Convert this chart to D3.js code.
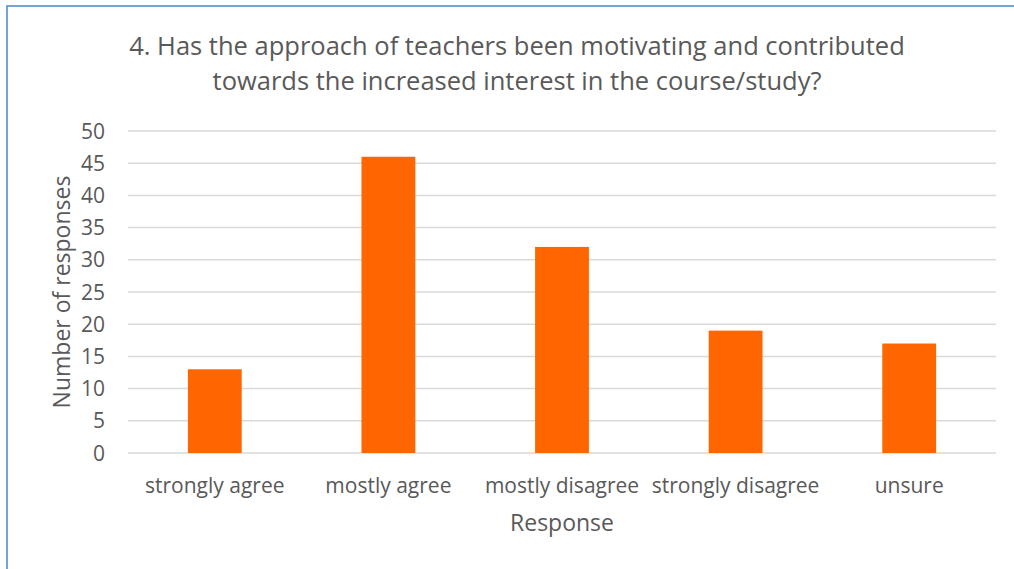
<!DOCTYPE html>
<html>
<head>
<meta http-equiv="Content-Type" content="text/html; charset=UTF-8">
<style>
body { margin: 0; background: #fff; }
text { font-family: "Open Sans", sans-serif; fill: #595959; }
.grid line { stroke: #d9d9d9; stroke-width: 1.5px; }
.bar { fill: #ff6600; }
</style>
</head>
<body>
<svg width="1014" height="569"></svg>
<script src="https://cdn.jsdelivr.net/npm/d3@7"></script>
<script>

var categories = ["strongly agree", "mostly agree", "mostly disagree", "strongly disagree", "unsure"];
var values = [13, 46, 32, 19, 17];
var yTicks = [0, 5, 10, 15, 20, 25, 30, 35, 40, 45, 50];
var titleLines = ["4. Has the approach of teachers been motivating and contributed",
                  "towards the increased interest in the course/study?"];

var svg = d3.select("svg"),
    margin = {top: 131, right: 18, bottom: 116, left: 128},
    width = +svg.attr("width") - margin.left - margin.right,
    height = +svg.attr("height") - margin.top - margin.bottom;

// chart frame
svg.append("rect")
    .attr("x", 7).attr("y", 6)
    .attr("width", 1020).attr("height", 600)
    .attr("fill", "none")
    .attr("stroke", "#4a86c8")
    .attr("stroke-width", 1.5);

var g = svg.append("g").attr("transform", "translate(" + margin.left + "," + margin.top + ")");

var x = d3.scaleBand().domain(categories).range([0, width]).padding(0);
var y = d3.scaleLinear().domain([0, 50]).range([height, 0]);

var barW = x.bandwidth() * 0.31;

// gridlines
g.append("g")
    .attr("class", "grid")
    .selectAll("line")
    .data(yTicks)
  .enter().append("line")
    .attr("x1", 0).attr("x2", width)
    .attr("y1", function(d) { return y(d); })
    .attr("y2", function(d) { return y(d); });

// y tick labels
g.append("g")
    .selectAll("text")
    .data(yTicks)
  .enter().append("text")
    .attr("x", -23)
    .attr("y", function(d) { return y(d); })
    .attr("dy", "0.36em")
    .attr("text-anchor", "end")
    .style("font-size", "21px")
    .text(function(d) { return d; });

// bars
g.selectAll(".bar")
    .data(values)
  .enter().append("rect")
    .attr("class", "bar")
    .attr("x", function(d, i) { return x(categories[i]) + (x.bandwidth() - barW) / 2; })
    .attr("y", function(d) { return y(d); })
    .attr("width", barW)
    .attr("height", function(d) { return height - y(d); });

// x category labels
g.append("g")
    .selectAll("text")
    .data(categories)
  .enter().append("text")
    .attr("x", function(d) { return x(d) + x.bandwidth() / 2; })
    .attr("y", height + 40)
    .attr("text-anchor", "middle")
    .style("font-size", "21px")
    .text(function(d) { return d; });

// axis titles
g.append("text")
    .attr("x", width / 2)
    .attr("y", height + 78)
    .attr("text-anchor", "middle")
    .style("font-size", "23px")
    .text("Response");

g.append("text")
    .attr("transform", "rotate(-90)")
    .attr("x", -height / 2)
    .attr("y", -58)
    .attr("text-anchor", "middle")
    .style("font-size", "23px")
    .text("Number of responses");

// title
svg.append("g")
    .selectAll("text")
    .data(titleLines)
  .enter().append("text")
    .attr("x", 517)
    .attr("y", function(d, i) { return 55 + i * 35; })
    .attr("text-anchor", "middle")
    .style("font-size", "25.5px")
    .text(function(d) { return d; });

</script>
</body></html>
